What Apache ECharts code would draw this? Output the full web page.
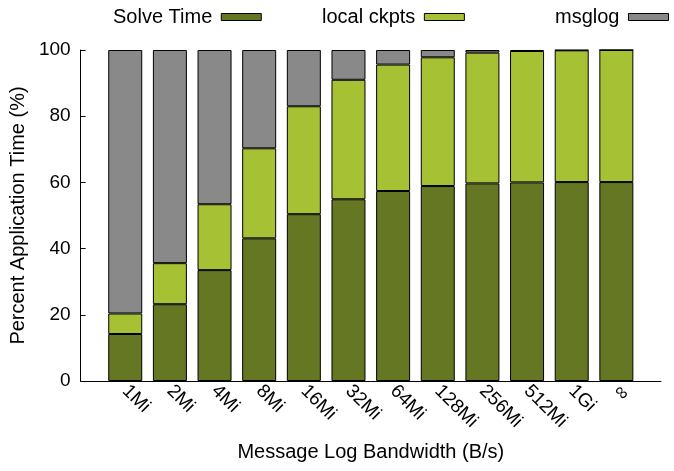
<!DOCTYPE html>
<html>
<head>
<meta charset="utf-8">
<script src="https://cdn.jsdelivr.net/npm/echarts@6/dist/echarts.min.js"></script>
<style>
  html, body { margin: 0; padding: 0; background: #fff; }
  #chart { width: 674px; height: 471px; }
</style>
</head>
<body>
<div id="chart"></div>
<script>
const categories = ['1Mi', '2Mi', '4Mi', '8Mi', '16Mi', '32Mi', '64Mi', '128Mi', '256Mi', '512Mi', '1Gi', '\u221e']
const solveTime = [14.2, 23.2, 33.5, 43.1, 50.4, 54.9, 57.4, 58.9, 59.7, 60.0, 60.1, 60.1]
const localCkpts = [6.2, 12.4, 19.9, 27.2, 32.6, 36.1, 38.2, 38.9, 39.5, 39.7, 39.8, 39.9]
const msglog = [79.6, 64.4, 46.6, 29.7, 17.0, 9.0, 4.4, 2.2, 0.8, 0.3, 0.1, 0.0]
const yTicks = [0, 20, 40, 60, 80, 100]

const font = 'Liberation Sans, Arial, sans-serif'
const colors = ['#657722', '#a7c134', '#898989']
const names = ['Solve Time', 'local ckpts', 'msglog']
const values = [solveTime, localCkpts, msglog]

const chart = echarts.init(document.getElementById('chart'))

// one legend block per item, text on the left of the swatch
const legendLeft = [113, 322, 555]
const legends = names.map((n, i) => ({
  data: [n],
  left: legendLeft[i],
  top: 7,
  padding: 0,
  align: 'right',
  icon: 'rect',
  itemWidth: 40,
  itemHeight: 7,
  itemGap: 0,
  selectedMode: false,
  textStyle: { color: '#000', fontSize: 20, fontFamily: font, padding: [0, 4, 0, 0] },
  itemStyle: { borderColor: '#000', borderWidth: 1 }
}))

const option = {
  animation: false,
  legend: legends,
  grid: { left: 77, right: 13, top: 50, bottom: 90 },
  xAxis: {
    type: 'value',
    min: -1,
    max: 12,
    interval: 1,
    name: 'Message Log Bandwidth (B/s)',
    nameLocation: 'middle',
    nameGap: 61,
    nameTextStyle: { color: '#000', fontSize: 20, fontFamily: font },
    axisLine: { show: true, onZero: false, lineStyle: { color: '#000', width: 1 } },
    axisTick: { show: false },
    splitLine: { show: false },
    axisLabel: {
      rotate: -45,
      margin: 7,
      color: '#000',
      fontSize: 19,
      fontFamily: font,
      showMinLabel: false,
      showMaxLabel: false,
      formatter: v => categories[v] !== undefined ? categories[v] : ''
    }
  },
  yAxis: {
    type: 'value',
    min: 0,
    max: 100,
    interval: 20,
    name: 'Percent Application Time (%)',
    nameLocation: 'middle',
    nameGap: 46,
    nameTextStyle: { color: '#000', fontSize: 20, fontFamily: font },
    axisLine: { show: true, onZero: false, lineStyle: { color: '#000', width: 1 } },
    axisTick: { show: true, inside: true, length: 5, lineStyle: { color: '#000' } },
    splitLine: { show: false },
    axisLabel: {
      color: '#000', fontSize: 19, fontFamily: font, margin: 10,
      formatter: v => yTicks.indexOf(v) >= 0 ? String(v) : ''
    }
  },
  // value first, position second, so the stack goes on the y dimension
  series: names.map((n, i) => ({
    name: n,
    type: 'bar',
    stack: 'total',
    barWidth: 34,
    encode: { x: 1, y: 0 },
    itemStyle: { color: colors[i], borderColor: '#000', borderWidth: 1 },
    data: values[i].map((v, j) => [v, j])
  }))
}

chart.setOption(option)
</script>
</body>
</html>
